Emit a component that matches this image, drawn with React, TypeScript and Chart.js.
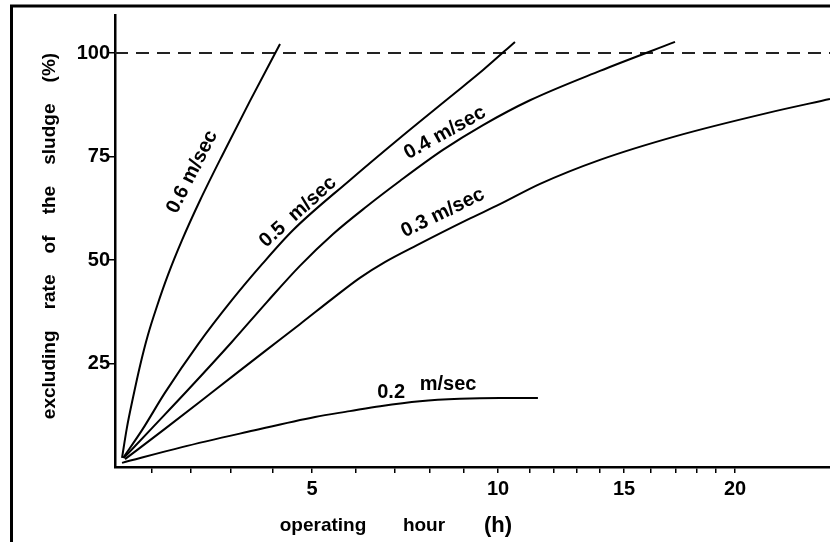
import React, { useEffect, useRef } from 'react';
import { Chart, registerables, LinearScale } from 'chart.js';

// ---- data ----
const X_MAX = 25;
const Y_MAX = 109.2;
const X_TICK_FIRST = 1;
const X_TICK_LAST = 20;
const X_TICK_LABELS = [5, 10, 15, 20];
const Y_TICK_VALUES = [25, 50, 75, 100];
const FULL_RATE = 100;

const SERIES_NAMES = ['0.6 m/sec', '0.5 m/sec', '0.4 m/sec', '0.3 m/sec', '0.2 m/sec'];

const HOURS_06 = [0.19, 0.32, 0.49, 0.68, 0.89, 1.13, 1.41, 1.77, 2.23, 2.85, 3.45, 4.18];
const RATE_06 = [2.2, 9.4, 16.9, 24.6, 31.9, 38.9, 46.4, 54.8, 64.5, 76.6, 88.4, 102.2];

const HOURS_05 = [0.22, 0.73, 1.33, 2.18, 3.02, 3.74, 4.51, 5.86, 7.14, 8.59, 9.56, 10.53];
const RATE_05 = [2.2, 8.9, 17.9, 29.7, 40.3, 49.0, 57.2, 69.3, 79.5, 89.4, 95.9, 102.7];

const HOURS_04 = [0.24, 1.0, 1.92, 3.02, 3.86, 4.69, 5.48, 6.28, 7.14, 8.38, 9.56, 11.0, 14.0, 16.96];
const RATE_04 = [2.2, 9.4, 18.6, 30.2, 39.9, 48.6, 56.3, 63.0, 69.1, 76.6, 82.6, 88.6, 95.7, 102.7];

const HOURS_03 = [0.27, 1.33, 2.6, 3.81, 4.69, 5.48, 6.1, 6.74, 7.63, 9.09, 10.06, 11.42, 14.0, 17.05, 21.68, 25];
const RATE_03 = [1.9, 9.2, 18.6, 28.0, 34.5, 40.8, 45.7, 49.5, 53.6, 59.7, 63.5, 68.4, 74.2, 80.0, 85.5, 88.9];

const HOURS_02 = [0.19, 1.77, 3.4, 5.07, 5.86, 6.62, 7.71, 8.88, 10.06, 11.33];
const RATE_02 = [1.0, 4.8, 8.5, 12.1, 13.5, 14.7, 15.9, 16.5, 16.7, 16.7];

// curve labels, anchored in data units
const LABEL_TEXTS = ['0.6 m/sec', '0.5  m/sec', '0.4 m/sec', '0.3 m/sec', '0.2', 'm/sec'];
const LABEL_HOURS = [2.03, 4.64, 8.44, 8.38, 6.9, 8.53];
const LABEL_RATES = [71.3, 61.6, 80.7, 61.4, 18.1, 20.0];
const LABEL_ANGLES = [-63, -42, -29, -26, 0, 0];

const Y_TITLE = 'excluding    rate    of    the    sludge    (%)';
const X_TITLE_WORDS = ['operating', 'hour', '(h)'];

// ---- the printed hour axis is not linear: relative spacing of each hour ----
const HOUR_SPACING = [37, 39, 40, 42, 39, 44, 39, 35, 34, 34, 32, 24, 23, 23, 24, 27, 25, 21, 19, 19];
const TAIL_SPACING = 19;

function warp(v: number): number {
  if (v <= 0) return v * HOUR_SPACING[0];
  let s = 0;
  for (let i = 0; i < HOUR_SPACING.length; i++) {
    if (v <= i + 1) return s + (v - i) * HOUR_SPACING[i];
    s += HOUR_SPACING[i];
  }
  return s + (v - HOUR_SPACING.length) * TAIL_SPACING;
}
function unwarp(w: number): number {
  if (w <= 0) return w / HOUR_SPACING[0];
  let s = 0;
  for (let i = 0; i < HOUR_SPACING.length; i++) {
    if (w <= s + HOUR_SPACING[i]) return i + (w - s) / HOUR_SPACING[i];
    s += HOUR_SPACING[i];
  }
  return HOUR_SPACING.length + (w - s) / TAIL_SPACING;
}

class WarpedScale extends LinearScale {
  static id = 'warped';
  static defaults = {};
  getPixelForValue(value: any) {
    if (value === null || value === undefined || isNaN(value)) return NaN;
    const lo = warp(this.min);
    const hi = warp(this.max);
    return this.getPixelForDecimal((warp(value) - lo) / (hi - lo));
  }
  getValueForPixel(pixel: number) {
    const lo = warp(this.min);
    const hi = warp(this.max);
    return unwarp(lo + this.getDecimalForPixel(pixel) * (hi - lo));
  }
}

Chart.register(...registerables);
Chart.register(WarpedScale as any);

const FONT = "'Liberation Sans', Arial, sans-serif";

const annotationPlugin = {
  id: 'annotations',
  beforeDraw(chart: any) {
    const ctx = chart.ctx;
    ctx.save();
    ctx.strokeStyle = '#000';
    ctx.lineWidth = 3;
    ctx.beginPath();
    ctx.moveTo(11.5, chart.height + 5);
    ctx.lineTo(11.5, 6);
    ctx.lineTo(chart.width + 5, 6);
    ctx.stroke();
    ctx.restore();
  },
  afterDraw(chart: any) {
    const ctx = chart.ctx;
    const xs = chart.scales.x;
    const ys = chart.scales.y;
    ctx.save();
    ctx.fillStyle = '#000';
    ctx.textAlign = 'center';
    ctx.textBaseline = 'middle';
    ctx.font = `bold 20px ${FONT}`;
    LABEL_TEXTS.forEach((t, i) => {
      const px = xs.getPixelForValue(LABEL_HOURS[i]);
      const py = ys.getPixelForValue(LABEL_RATES[i]);
      ctx.save();
      ctx.translate(px, py);
      ctx.rotate((LABEL_ANGLES[i] * Math.PI) / 180);
      ctx.fillText(t, 0, 0);
      ctx.restore();
    });
    // y title
    ctx.font = `bold 19px ${FONT}`;
    ctx.save();
    ctx.translate(50, 236);
    ctx.rotate(-Math.PI / 2);
    ctx.fillText(Y_TITLE, 0, 0);
    ctx.restore();
    // x title
    const xPos = [323, 424, 498];
    X_TITLE_WORDS.forEach((w, i) => {
      ctx.font = i === 2 ? `bold 22px ${FONT}` : `bold 19px ${FONT}`;
      ctx.fillText(w, xPos[i], 526);
    });
    ctx.restore();
  },
};

export default function App() {
  const ref = useRef<HTMLCanvasElement | null>(null);
  useEffect(() => {
    document.body.style.margin = '0';
    const canvas = ref.current;
    if (!canvas) return;
    const series = [
      [HOURS_06, RATE_06],
      [HOURS_05, RATE_05],
      [HOURS_04, RATE_04],
      [HOURS_03, RATE_03],
      [HOURS_02, RATE_02],
    ];
    const datasets: any[] = series.map(([h, r], i) => ({
      label: SERIES_NAMES[i],
      data: h.map((x, j) => ({ x, y: r[j] })),
      borderColor: '#000',
      borderWidth: 2,
      pointRadius: 0,
      tension: 0.4,
      cubicInterpolationMode: 'monotone',
      fill: false,
    }));
    datasets.push({
      label: '100 %',
      data: [
        { x: 0, y: FULL_RATE },
        { x: X_MAX, y: FULL_RATE },
      ],
      borderColor: '#222',
      borderWidth: 2,
      borderDash: [13, 8],
      pointRadius: 0,
      fill: false,
    });
    const tickFont = { family: FONT, size: 20, weight: 'bold' as const };
    const chart = new Chart(canvas, {
      type: 'line',
      data: { datasets },
      plugins: [annotationPlugin],
      options: {
        responsive: false,
        animation: false,
        devicePixelRatio: 1,
        layout: { padding: { top: 15, left: 0, right: 0, bottom: 0 } },
        plugins: {
          legend: { display: false },
          tooltip: { enabled: false },
        },
        scales: {
          x: {
            type: 'warped' as any,
            min: 0,
            max: X_MAX,
            position: 'bottom',
            border: { display: true, color: '#000', width: 2.5 },
            grid: {
              display: true,
              drawOnChartArea: false,
              drawTicks: true,
              tickLength: 6,
              color: '#000',
              lineWidth: 1.5,
            },
            ticks: {
              stepSize: 1,
              autoSkip: false,
              maxRotation: 0,
              padding: 4,
              color: '#000',
              font: tickFont,
              callback: (v: any) => (X_TICK_LABELS.includes(Number(v)) ? String(v) : ''),
            },
            afterBuildTicks: (s: any) => {
              s.ticks = s.ticks.filter((t: any) => t.value >= X_TICK_FIRST && t.value <= X_TICK_LAST);
            },
            afterFit: (s: any) => {
              s.height = 75;
            },
          } as any,
          y: {
            type: 'linear',
            min: 0,
            max: Y_MAX,
            border: { display: true, color: '#000', width: 2.5 },
            grid: {
              display: true,
              drawOnChartArea: false,
              drawTicks: true,
              tickLength: 7,
              color: '#000',
              lineWidth: 1.5,
            },
            ticks: {
              padding: -2,
              color: '#000',
              font: tickFont,
              callback: (v: any) => String(v),
            },
            afterBuildTicks: (s: any) => {
              s.ticks = Y_TICK_VALUES.map((v) => ({ value: v }));
            },
            afterFit: (s: any) => {
              s.width = 115;
            },
          },
        },
      },
    });
    return () => chart.destroy();
  }, []);
  return (
    <div style={{ width: 830, height: 542 }}>
      <canvas ref={ref} width={830} height={542} style={{ display: 'block' }} />
    </div>
  );
}
